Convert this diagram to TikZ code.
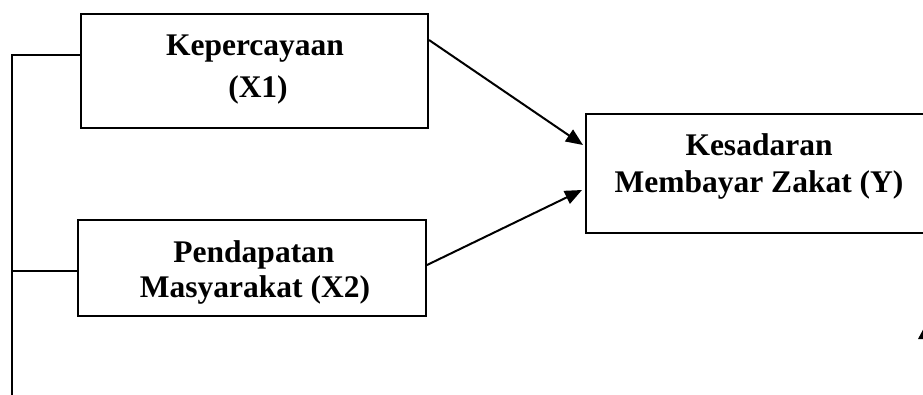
\documentclass[tikz,border=0pt]{standalone}
\usepackage{fontspec}
\setmainfont{Liberation Serif}
\usetikzlibrary{arrows.meta,calc}
\begin{document}
\begin{tikzpicture}[x=1pt,y=-1pt,
  box/.style={draw,line width=2pt,inner sep=0pt,rectangle},
  lbl/.style={font=\fontsize{31.5}{38}\selectfont\bfseries,inner sep=0pt,anchor=base},
  conn/.style={line width=2pt},
  arr/.style={line width=2pt,-{Triangle[length=17pt,width=14pt]}}]
\clip (0,0) rectangle (923,394);
\fill[white] (0,0) rectangle (923,394);
% boxes
\node[box,minimum width=347pt,minimum height=114pt] (b1) at (254.5,71) {};
\node[box,minimum width=348pt,minimum height=96pt] (b2) at (252,268) {};
\node[box,minimum width=346pt,minimum height=119pt] (yb) at (759,173.5) {};
% texts
\node[lbl] (t1a) at (255,55) {Kepercayaan};
\node[lbl] (t1b) at (258,97) {(X1)};
\node[lbl] (t2a) at (254,262) {Pendapatan};
\node[lbl] (t2b) at (255,297) {Masyarakat (X2)};
\node[lbl] (tya) at (759,155) {Kesadaran};
\node[lbl] (tyb) at (759,192) {Membayar Zakat (Y)};
% left bracket
\coordinate (c1) at (12,55);
\coordinate (c2) at (12,271);
\coordinate (cb) at (12,396);
\draw[conn] (c1 -| b1.west) -- (c1) -- (cb);
\draw[conn] (c2 -| b2.west) -- (c2);
% arrows
\coordinate (s1) at (428,40);
\coordinate (e1) at (583,145);
\coordinate (s2) at (427,265);
\coordinate (e2) at (582,190);
\draw[arr] (s1 -| b1.east) -- (e1);
\draw[arr] (s2 -| b2.east) -- (e2);
% partial arrowhead at right edge
\fill (925,326) -- (918,339) -- (932,339) -- cycle;
\end{tikzpicture}
\end{document}
